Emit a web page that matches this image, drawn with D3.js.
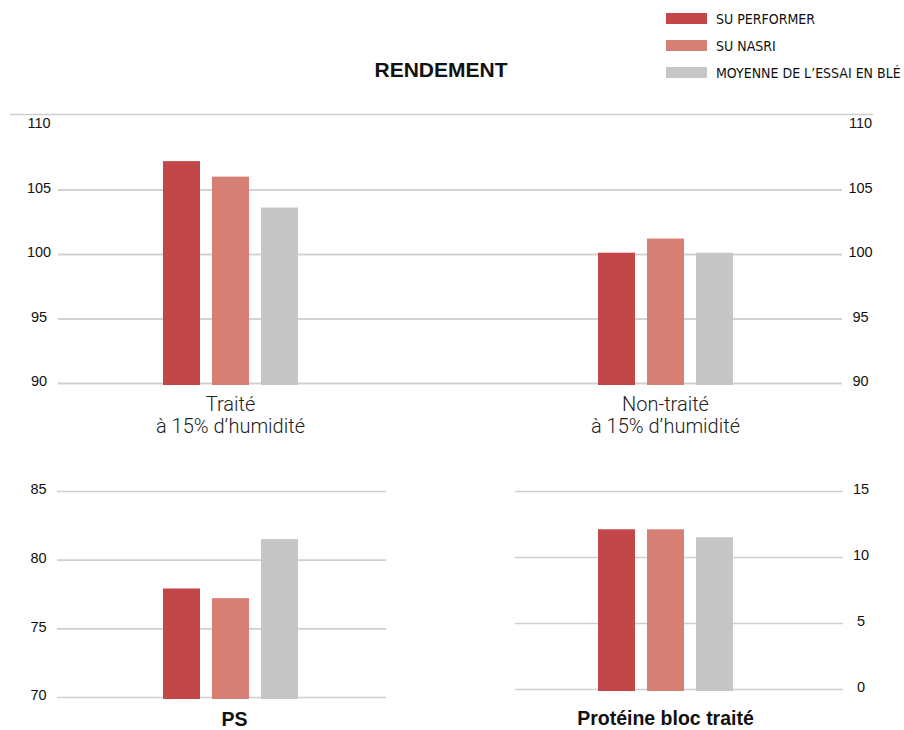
<!DOCTYPE html>
<html>
<head>
<meta charset="utf-8">
<script src="https://cdn.jsdelivr.net/npm/d3@7"></script>
<style>
  body { margin: 0; background: #fff; }
  text { font-family: "Liberation Sans", Arial, sans-serif; fill: #111; }
  .tick text { font-size: 14.5px; }
  .legend text { font-family: "Liberation Sans Narrow", "DejaVu Sans Condensed", sans-serif; font-size: 14px; }
  .cat-light { font-family: Roboto, "Liberation Sans", sans-serif; font-weight: 300; font-size: 20px; fill: #222; }
  .cat-bold { font-weight: bold; font-size: 19.5px; }
</style>
</head>
<body>
<div id="chart"></div>
<script>
// data
const series = ['SU PERFORMER', 'SU NASRI', 'MOYENNE DE L\u2019ESSAI EN BL\u00c9'];
const colors = ['#c34748', '#d67f75', '#c6c6c6'];

const rendementCats = ['Traité', 'Non-traité'];
const rendementValues = [
  [107.2, 106.0, 103.6],
  [100.1, 101.2, 100.1]
];
const rendementTicks = [90, 95, 100, 105, 110];

const psValues = [77.9, 77.2, 81.5];
const psTicks = [70, 75, 80, 85];

const proteineValues = [12.1, 12.1, 11.5];
const proteineTicks = [0, 5, 10, 15];

const width = 904, height = 730;
const svg = d3.select('#chart').append('svg')
  .attr('width', width)
  .attr('height', height);

// horizontal placement shared by all panels
const xScale = d3.scaleBand().domain(rendementCats).range([13, 883]);
const inner = d3.scaleBand().domain(series)
  .range([-73.5, 73.5])
  .paddingInner(0.245)
  .paddingOuter(0.1225);
const color = d3.scaleOrdinal().domain(series).range(colors);
const center = c => xScale(c) + xScale.bandwidth() / 2;

const gridAxis = (g, axis, x0, x1, labelX, hideTop) => {
  g.attr('transform', `translate(${x0},0)`)
    .call(axis.tickSize(-(x1 - x0)));
  g.select('.domain').remove();
  g.selectAll('.tick line')
    .attr('stroke', '#cfcfcf')
    .attr('stroke-width', 1.6)
    .attr('x1', 0).attr('x2', x1 - x0);
  if (hideTop) g.selectAll('.tick line').filter(d => d === hideTop).remove();
  g.selectAll('.tick text')
    .attr('x', labelX - x0)
    .attr('dy', '0.2em')
    .attr('text-anchor', 'middle')
    .attr('fill', '#111');
};

const drawBars = (chart, cat, values, y) => {
  chart.selectAll(null)
    .data(values.map((v, i) => ({ s: series[i], v })))
    .enter()
    .append('rect')
    .attr('x', d => center(cat) + inner(d.s))
    .attr('width', inner.bandwidth())
    .attr('y', d => y(d.v))
    .attr('height', d => y.range()[0] + 2 - y(d.v))
    .attr('fill', d => color(d.s));
};

// title and top rule
svg.append('text')
  .attr('x', 441).attr('y', 77)
  .attr('text-anchor', 'middle')
  .attr('font-weight', 'bold')
  .attr('font-size', 21)
  .text('RENDEMENT');

svg.append('line')
  .attr('x1', 10).attr('x2', 873)
  .attr('y1', 114.5).attr('y2', 114.5)
  .attr('stroke', '#cfcfcf').attr('stroke-width', 1.6);

// legend
const legend = svg.append('g').classed('legend', true)
  .selectAll('g')
  .data(series)
  .enter()
  .append('g')
  .attr('transform', (d, i) => `translate(666,${13 + i * 27})`);
legend.append('rect')
  .attr('width', 41).attr('height', 11)
  .attr('fill', d => color(d));
legend.append('text')
  .attr('x', 50).attr('y', 11)
  .text(d => d);

// rendement panel
const yTop = d3.scaleLinear().domain([90, 110]).range([383, 125]);
const rend = svg.append('g');
rend.append('g').call(g => gridAxis(g, d3.axisLeft(yTop).tickValues(rendementTicks), 58, 842, 39, 110));
rend.append('g').call(g => gridAxis(g, d3.axisRight(yTop).tickValues(rendementTicks), 58, 842, 860.5, 110));
rendementCats.forEach((c, i) => drawBars(rend, c, rendementValues[i], yTop));

rendementCats.forEach(c => {
  const t = rend.append('text')
    .classed('cat-light', true)
    .attr('text-anchor', 'middle')
    .attr('x', center(c))
    .attr('y', 411);
  t.append('tspan').attr('x', center(c)).text(c);
  t.append('tspan').attr('x', center(c)).attr('dy', 21.6).text('à 15% d\u2019humidité');
});

// PS panel
const yPs = d3.scaleLinear().domain([70, 85]).range([697, 491]);
const ps = svg.append('g');
ps.append('g').call(g => gridAxis(g, d3.axisLeft(yPs).tickValues(psTicks), 57, 386, 38.5));
drawBars(ps, rendementCats[0], psValues, yPs);
ps.append('text')
  .classed('cat-bold', true)
  .attr('text-anchor', 'middle')
  .attr('x', center(rendementCats[0]) + 4)
  .attr('y', 726)
  .text('PS');

// protéine panel
const yPr = d3.scaleLinear().domain([0, 15]).range([689, 491]);
const pr = svg.append('g');
pr.append('g').call(g => gridAxis(g, d3.axisRight(yPr).tickValues(proteineTicks), 515, 843, 861));
drawBars(pr, rendementCats[1], proteineValues, yPr);
pr.append('text')
  .classed('cat-bold', true)
  .attr('text-anchor', 'middle')
  .attr('x', center(rendementCats[1]))
  .attr('y', 725)
  .text('Protéine bloc traité');
</script>
</body>
</html>
